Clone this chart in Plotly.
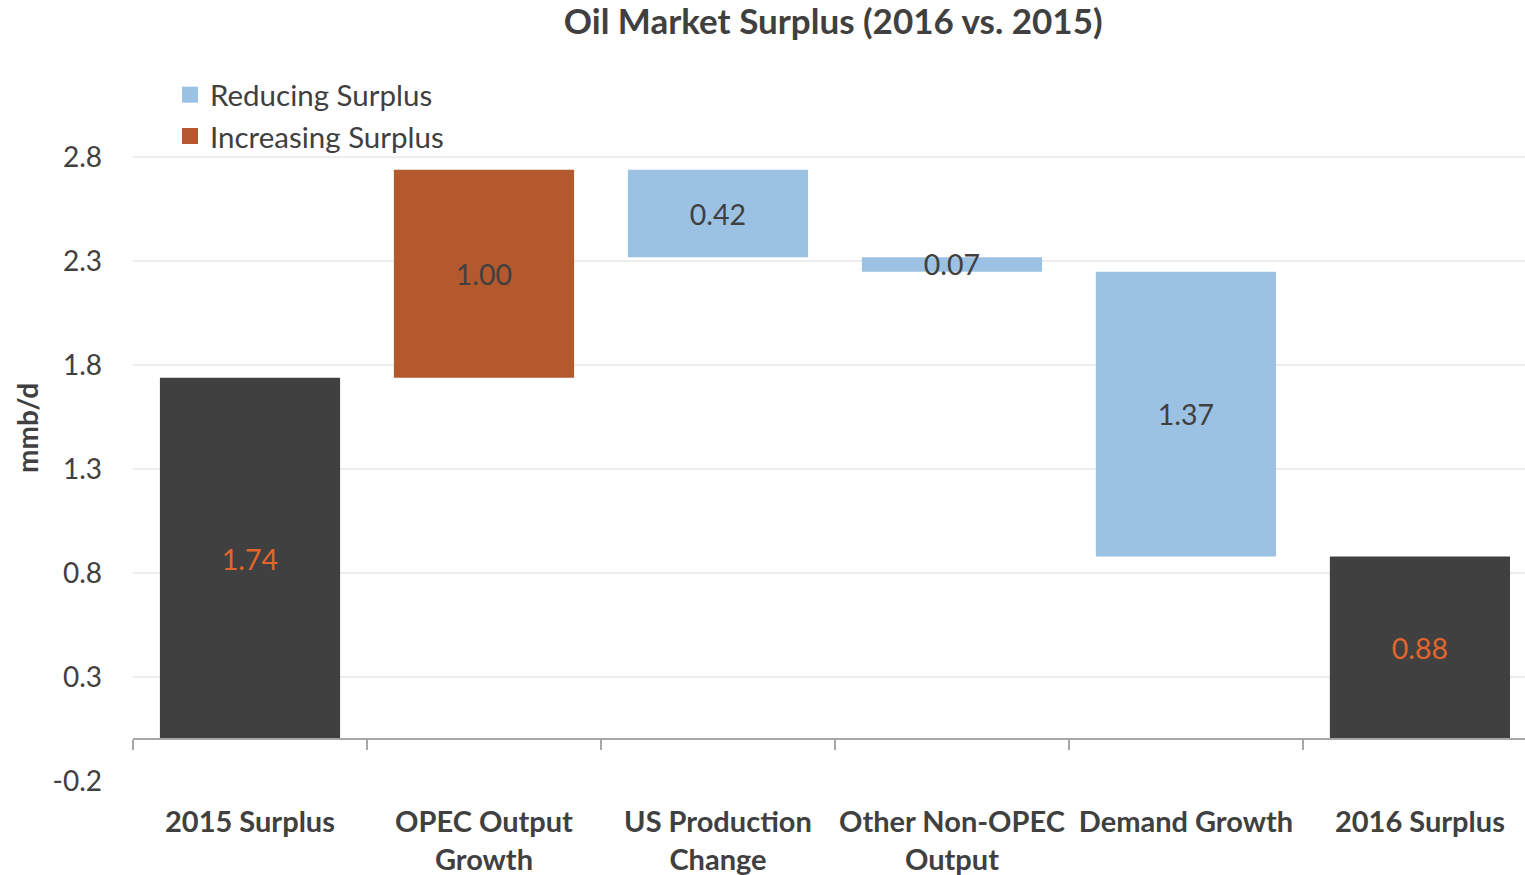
import plotly.graph_objects as go

categories = ["2015 Surplus", "OPEC Output<br>Growth", "US Production<br>Change",
              "Other Non-OPEC<br>Output", "Demand Growth", "2016 Surplus"]
changes = [1.74, 1.00, -0.42, -0.07, -1.37, 0.88]
kinds = ["total", "increase", "decrease", "decrease", "decrease", "total"]
y_ticks = [-0.2, 0.3, 0.8, 1.3, 1.8, 2.3, 2.8]

FONT = "Lato"
TXT = "#404040"
C_TOTAL = "#404040"
C_UP = "#B4582D"
C_DOWN = "#9BC2E2"

# running totals -> bar bases / heights
bases, heights = [], []
running = 0.0
for v, k in zip(changes, kinds):
    if k == "total":
        bases.append(0.0)
        heights.append(v)
        running = v
    elif k == "increase":
        bases.append(running)
        heights.append(v)
        running += v
    else:
        bases.append(running + v)
        heights.append(-v)
        running += v

idx = list(range(len(categories)))
BW = 0.77

def subset(kind):
    sel = [i for i in idx if kinds[i] == kind]
    return ([idx[i] for i in sel], [heights[i] for i in sel],
            [bases[i] for i in sel], [f"{abs(changes[i]):.2f}" for i in sel])

fig = go.Figure()
styles = {
    "total": (C_TOTAL, "#E2662C"),
    "increase": (C_UP, TXT),
    "decrease": (C_DOWN, TXT),
}
for kind in ["total", "increase", "decrease"]:
    xs, hs, bs, ts = subset(kind)
    col, tcol = styles[kind]
    fig.add_trace(go.Bar(
        x=xs, y=hs, base=bs, width=BW, marker=dict(color=col, line=dict(width=0)),
        text=ts, textposition="inside", insidetextanchor="middle", textangle=0,
        constraintext="none", textfont=dict(family=FONT, size=28.5, color=tcol),
        showlegend=False, hoverinfo="skip", cliponaxis=False,
    ))

# legend entries
for g, (name, col) in enumerate([("Reducing Surplus", C_DOWN), ("Increasing Surplus", C_UP)]):
    fig.add_trace(go.Scatter(x=[None], y=[None], mode="markers", name=name,
                             legendgroup=f"g{g}",
                             marker=dict(symbol="square", size=17, color=col)))

# zero axis with category-boundary ticks
fig.add_trace(go.Scatter(x=[None], y=[None], xaxis="x2", showlegend=False, hoverinfo="skip"))

y_lo, y_hi = -0.2, 2.85
x_rng = [-0.5, 5.449]
zero_pos = (0 - y_lo) / (y_hi - y_lo)
T, B = 147, 94
H = 875 - T - B

fig.update_layout(
    width=1525, height=875, autosize=False,
    margin=dict(l=133, r=0, t=T, b=B, autoexpand=False),
    paper_bgcolor="white", plot_bgcolor="white",
    barmode="overlay",
    font=dict(family=FONT, size=29, color=TXT),
    title=dict(text="<b>Oil Market Surplus (2016 vs. 2015)</b>", x=0.503, xref="paper",
               xanchor="center", y=1 - 22 / 875, yanchor="middle",
               font=dict(family=FONT, size=35, color=TXT)),
    xaxis=dict(range=x_rng, tickvals=idx, ticktext=[f"<b>{c}</b>" for c in categories],
               showgrid=False, zeroline=False, showline=False, ticks="", automargin=False,
               tickfont=dict(family=FONT, size=29, color=TXT), ticklabelstandoff=21),
    xaxis2=dict(range=x_rng, overlaying="x", anchor="free", position=zero_pos,
                tickvals=[i - 0.5 for i in range(len(categories) + 1)],
                ticks="outside", ticklen=10, tickcolor="#A6A6A6", tickwidth=1.5,
                showline=True, linecolor="#A6A6A6", linewidth=1.5, automargin=False,
                showticklabels=False, showgrid=False, zeroline=False),
    yaxis=dict(range=[y_lo, y_hi], tickvals=y_ticks, ticktext=[f"{t:.1f}" for t in y_ticks],
               showgrid=True, gridcolor="#EEEEEE", gridwidth=1.5, zeroline=False,
               showline=False, ticks="", ticklabelstandoff=30, automargin=False,
               tickfont=dict(family=FONT, size=28, color=TXT)),
    annotations=[dict(text="<b>mmb/d</b>", textangle=-90, xref="paper", yref="paper",
                      x=(27 - 133) / 1392, y=(875 - B - 428) / H, xanchor="center",
                      yanchor="middle", showarrow=False,
                      font=dict(family=FONT, size=28, color=TXT))],
    legend=dict(x=(170 - 133) / 1392, xanchor="left", y=1 + (T - 69) / H, yanchor="top",
                bgcolor="rgba(0,0,0,0)", font=dict(family=FONT, size=29.5, color=TXT),
                itemwidth=30, tracegroupgap=0),
)

post = ("document.body.style.margin='0';document.body.style.overflow='hidden';"
        "var gd=document.getElementById('{plot_id}');"
        "Plotly.relayout(gd,{width:1525,height:875});")
fig.write_html("out.html", post_script=post, config={"displayModeBar": False})
